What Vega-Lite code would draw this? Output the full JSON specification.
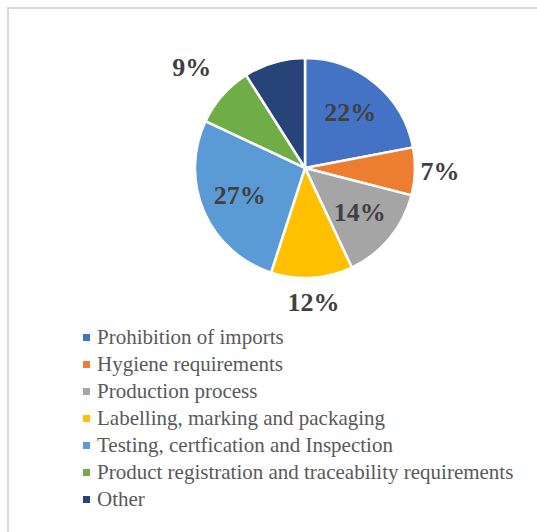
{
  "$schema": "https://vega.github.io/schema/vega-lite/v6.json",
  "autosize": "none",
  "padding": {"left": 8, "top": 8, "right": 0, "bottom": 0},
  "width": 594,
  "height": 560,
  "background": "white",
  "view": {"stroke": "#d9d9d9", "strokeWidth": 2, "fill": "white"},
  "config": {
    "view": {"stroke": "#d9d9d9", "strokeWidth": 2},
    "font": "Liberation Serif"
  },
  "data": {
    "values": [
      {"Rank": 1, "Category": "Prohibition of imports", "Share": 0.22},
      {"Rank": 2, "Category": "Hygiene requirements", "Share": 0.07},
      {"Rank": 3, "Category": "Production process", "Share": 0.14},
      {"Rank": 4, "Category": "Labelling, marking and packaging", "Share": 0.12},
      {"Rank": 5, "Category": "Testing, certfication and Inspection", "Share": 0.27},
      {"Rank": 6, "Category": "Product registration and traceability requirements", "Share": 0.09},
      {"Rank": 7, "Category": "Other", "Share": 0.09}
    ]
  },
  "encoding": {
    "theta": {"field": "Share", "type": "quantitative", "stack": true},
    "order": {"field": "Rank", "type": "quantitative"}
  },
  "layer": [
    {
      "mark": {"type": "arc", "outerRadius": 110, "stroke": "white", "strokeWidth": 2.5, "y": {"expr": "height*0.2857"}},
      "encoding": {
        "color": {
          "field": "Category",
          "type": "nominal",
          "scale": {
            "domain": ["Prohibition of imports", "Hygiene requirements", "Production process", "Labelling, marking and packaging", "Testing, certfication and Inspection", "Product registration and traceability requirements", "Other"],
            "range": ["#4472C4", "#ED7D31", "#A5A5A5", "#FFC000", "#5B9BD5", "#70AD47", "#264478"]
          },
          "legend": {
            "title": null,
            "orient": "none",
            "legendX": 68,
            "legendY": 319,
            "padding": 0,
            "symbolType": "square",
            "symbolSize": 49,
            "symbolStrokeWidth": 0,
            "labelFont": "Liberation Serif",
            "labelFontSize": 21,
            "labelColor": "#595959",
            "labelOffset": 0,
            "labelLimit": 600,
            "rowPadding": 5
          }
        }
      }
    },
    {
      "mark": {"type": "text", "radius": 71, "font": "Liberation Serif", "fontWeight": "bold", "fontSize": 26, "color": "#404040", "y": {"expr": "height*0.2857"}},
      "encoding": {
        "text": {
          "condition": {"test": "indexof(['Prohibition of imports','Production process','Testing, certfication and Inspection'], datum.Category) >= 0", "field": "Share", "type": "quantitative", "format": ".0%"},
          "value": ""
        }
      }
    },
    {
      "mark": {"type": "text", "radius": 135, "font": "Liberation Serif", "fontWeight": "bold", "fontSize": 26, "color": "#404040", "y": {"expr": "height*0.2857"}},
      "encoding": {
        "text": {
          "condition": {"test": "indexof(['Hygiene requirements','Labelling, marking and packaging'], datum.Category) >= 0", "field": "Share", "type": "quantitative", "format": ".0%"},
          "value": ""
        }
      }
    },
    {
      "mark": {"type": "text", "radius": 151, "font": "Liberation Serif", "fontWeight": "bold", "fontSize": 26, "color": "#404040", "y": {"expr": "height*0.2857"}},
      "encoding": {
        "text": {
          "condition": {"test": "datum.Category === 'Product registration and traceability requirements'", "field": "Share", "type": "quantitative", "format": ".0%"},
          "value": ""
        }
      }
    }
  ]
}
